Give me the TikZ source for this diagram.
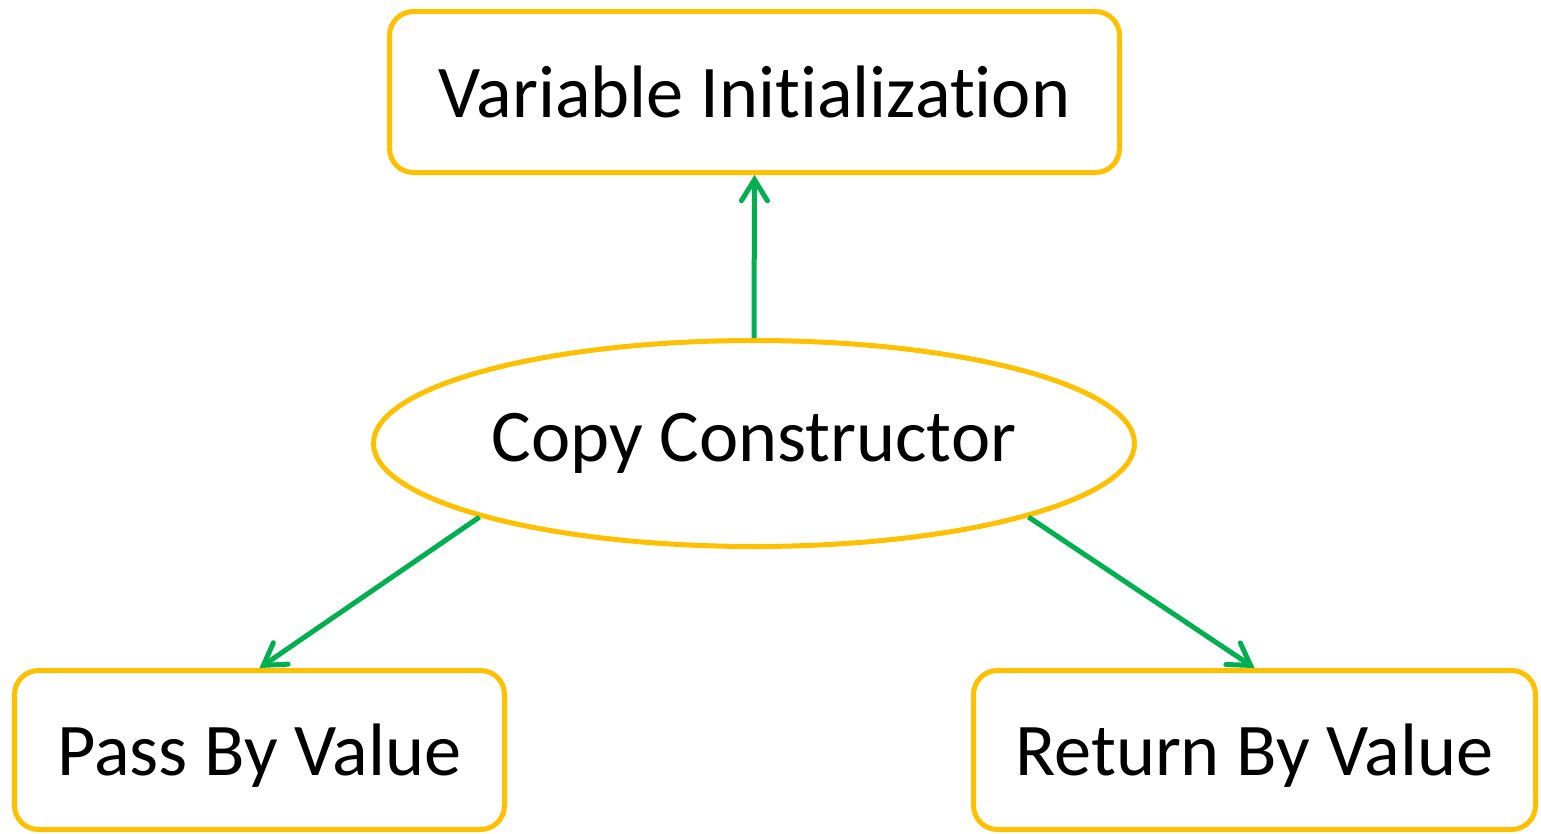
\documentclass[tikz,border=0pt]{standalone}
\usepackage{fontspec}
\setmainfont{Carlito}[Ligatures=NoCommon]
\usetikzlibrary{shapes.geometric,arrows.meta}

\definecolor{boxorange}{HTML}{FFC000}
\definecolor{arrowgreen}{HTML}{00B050}

\tikzset{%
  % Specifications for style of nodes:
         base/.style = {rectangle, rounded corners=0.48cm, draw = boxorange, line width=0.1cm, minimum height=3.18cm, inner sep=0pt, text depth=0pt, fill=white, font=\fontsize{42.3}{50}\selectfont},
         oval/.style = {ellipse, draw = boxorange, line width=0.1cm, minimum width=15.22cm, minimum height=4.12cm, inner sep=0pt, fill=white, font=\fontsize{42.3}{50}\selectfont},
        arrow/.style = {line width=0.1cm, draw = arrowgreen, -{Straight Barb[length=0.42cm, width=0.52cm, line cap=round]}},
}

\begin{document}
\begin{tikzpicture}
    \useasboundingbox (0,0) rectangle (30.82,-16.68);
    % Draw nodes
    \node (init)   [base, minimum width=14.60cm, minimum height=3.22cm] at (15.09,-1.84)  {Variable Initialization};
    \node (copy)   [oval]                        at (15.08,-8.87)  {Copy Constructor};
    \node (pass)   [base, minimum width=9.80cm]  at (5.19,-15.0)   {Pass By Value};
    \node (return) [base, minimum width=11.24cm] at (25.09,-15.0)  {Return By Value};

    % Draw arrows
    \draw[arrow]   (copy.north) -- (init.south);
    \draw[arrow]   (copy.195)   -- (pass.north);
    \draw[arrow]   (copy.-15)   -- (return.north);

\end{tikzpicture}
\end{document}
